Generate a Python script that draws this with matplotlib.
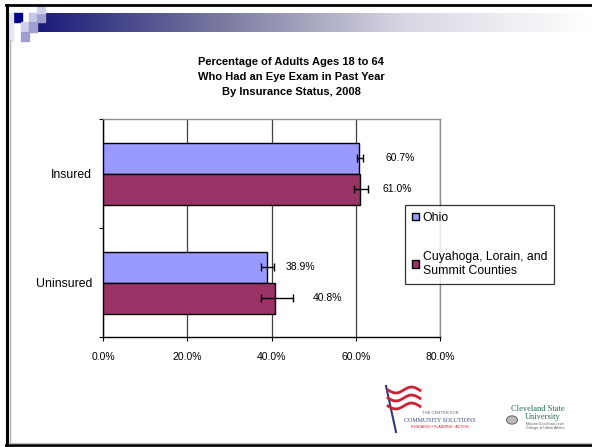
import matplotlib
matplotlib.use("Agg")
import matplotlib.pyplot as plt
import numpy as np
from matplotlib.patches import Rectangle, Circle
from matplotlib.lines import Line2D
from matplotlib.colors import LinearSegmentedColormap

# ---------------- data ----------------
categories = ["Insured", "Uninsured"]
series_names = ["Ohio", "Cuyahoga, Lorain, and\nSummit Counties"]
ohio_values = [60.7, 38.9]
county_values = [61.0, 40.8]
ohio_ci_low = [60.4, 37.6]
ohio_ci_high = [61.8, 40.7]
county_ci_low = [59.6, 37.4]
county_ci_high = [63.0, 45.0]
value_labels_ohio = ["60.7%", "38.9%"]
value_labels_county = ["61.0%", "40.8%"]
x_ticks = [0, 20, 40, 60, 80]
x_tick_labels = ["0.0%", "20.0%", "40.0%", "60.0%", "80.0%"]
title = "Percentage of Adults Ages 18 to 64\nWho Had an Eye Exam in Past Year\nBy Insurance Status, 2008"

# ---------------- style ----------------
FONT = "Liberation Sans"
plt.rcParams['font.family'] = [FONT, 'DejaVu Sans']
ohio_color = "#9999FF"
county_color = "#993366"
# label offsets (points) from bar end
off_ohio = [30, 24]
off_county = [27, 38]

W, H = 592, 447
fig = plt.figure(figsize=(W / 100, H / 100), dpi=100)

def fx(px):
    return px / W

def fy(py):
    return 1 - py / H

# slide decorations
grad = np.linspace(0, 1, 256).reshape(1, -1)
cmap = LinearSegmentedColormap.from_list("g", ["#1a1a7a", "#7a7aa0", "#d8d8e4", "#ffffff"])
gax = fig.add_axes([fx(37), fy(32), fx(592 - 37), (32 - 13) / H])
gax.imshow(grad, aspect="auto", cmap=cmap)
gax.axis("off")

squares = [
    (13, 13, 9, 9, "#000080"),
    (29, 13, 8, 9, "#c8c8e6"),
    (37, 13, 8, 9, "#a0a0d0"),
    (37, 5, 8, 8, "#d0d0ec"),
    (21, 22, 8, 10, "#d0d0ec"),
    (29, 22, 8, 10, "#a0a0d0"),
    (21, 32, 8, 9, "#a0a0d0"),
    (7, 13, 6, 28, "#e4e4f2"),
]
for x, y, w, h, c in squares:
    fig.patches.append(Rectangle((fx(x), fy(y + h)), fx(w), h / H, color=c,
                                 transform=fig.transFigure, zorder=1))

# slide border
fig.lines.append(Line2D([fx(6), 1], [fy(5), fy(5)], color="black", lw=2, transform=fig.transFigure))
fig.lines.append(Line2D([fx(7), fx(7)], [fy(5), fy(445)], color="black", lw=2.2, transform=fig.transFigure))
fig.lines.append(Line2D([fx(9.5), fx(9.5)], [fy(40), fy(443)], color="#b0b0b0", lw=1, transform=fig.transFigure))
fig.lines.append(Line2D([fx(6), 1], [fy(445), fy(445)], color="black", lw=2, transform=fig.transFigure))
fig.lines.append(Line2D([fx(9), 1], [fy(442.5), fy(442.5)], color="#c0c0c0", lw=1, transform=fig.transFigure))

# title
fig.text(fx(291), fy(57), title, ha="center", va="top", fontsize=8,
         fontweight="bold", linespacing=1.6)

# ---------------- main axes ----------------
ax = fig.add_axes([fx(103), fy(337), fx(440 - 103), (337 - 119) / H])
ypos = np.array([1.0, 0.0])  # Insured on top
bh = 31 / 109.0

ax.barh(ypos + bh / 2, ohio_values, height=bh, color=ohio_color,
        edgecolor="black", linewidth=1, zorder=3, label=series_names[0])
ax.barh(ypos - bh / 2, county_values, height=bh, color=county_color,
        edgecolor="black", linewidth=1, zorder=3, label=series_names[1])

oc = np.array(ohio_values)
cc = np.array(county_values)
ax.errorbar(oc, ypos + bh / 2,
            xerr=[oc - np.array(ohio_ci_low), np.array(ohio_ci_high) - oc],
            fmt="none", ecolor="black", elinewidth=1, capsize=3, capthick=1, zorder=4)
ax.errorbar(cc, ypos - bh / 2,
            xerr=[cc - np.array(county_ci_low), np.array(county_ci_high) - cc],
            fmt="none", ecolor="black", elinewidth=1, capsize=3, capthick=1, zorder=4)

for i in range(len(categories)):
    ax.annotate(value_labels_ohio[i], (ohio_values[i], ypos[i] + bh / 2),
                xytext=(off_ohio[i], 0), textcoords="offset points",
                ha="center", va="center", fontsize=7.5)
    ax.annotate(value_labels_county[i], (county_values[i], ypos[i] - bh / 2),
                xytext=(off_county[i], 0), textcoords="offset points",
                ha="center", va="center", fontsize=7.5)

ax.set_xlim(0, 80)
ax.set_ylim(-0.5, 1.5)
ax.set_xticks(x_ticks)
ax.set_xticklabels(x_tick_labels, fontsize=7.5)
ax.set_yticks(ypos)
ax.set_yticklabels(categories, fontsize=8.8)
ax.set_yticks([-0.5, 0.5, 1.5], minor=True)
ax.tick_params(axis="y", which="major", length=0, pad=8)
ax.tick_params(axis="y", which="minor", length=3, direction="out", width=0.8)
ax.tick_params(axis="x", which="major", length=3, direction="out", width=0.8, pad=8)
ax.grid(axis="x", color="#404040", linewidth=0.9, zorder=0)
ax.set_axisbelow(True)
for s in ["top", "right"]:
    ax.spines[s].set_color("#909090")
    ax.spines[s].set_linewidth(1)
for s in ["left", "bottom"]:
    ax.spines[s].set_color("black")
    ax.spines[s].set_linewidth(1)

leg = ax.legend(loc="upper left", bbox_to_anchor=(fx(405), fy(205)),
                bbox_transform=fig.transFigure, frameon=True, fancybox=False,
                edgecolor="black", fontsize=8.8, handlelength=0.6, handleheight=0.6,
                handletextpad=0.3, labelspacing=2.2, borderpad=0.55, borderaxespad=0)
for t in leg.get_texts():
    t.set_linespacing(1.3)
leg.get_frame().set_linewidth(0.9)
leg.set_zorder(10)

# ---------------- logos (approximate) ----------------
fig.lines.append(Line2D([fx(386), fx(396)], [fy(386), fy(432)], color="#2a3a7a", lw=1.5,
                        transform=fig.transFigure))
for yy in [390, 398, 406]:
    xs = np.linspace(388, 420, 20)
    ys = yy + 3 * np.sin((xs - 388) / 5)
    fig.lines.append(Line2D(fx(xs), fy(ys), color="#cc2233", lw=2,
                            transform=fig.transFigure))
fig.text(fx(440), fy(413), "THE CENTER FOR", fontsize=3, color="#5a5a7a", ha="center", va="center")
fig.text(fx(440), fy(420), "COMMUNITY SOLUTIONS", fontsize=4.3, color="#3a4a8a", ha="center",
         va="center", family="Liberation Serif")
fig.text(fx(440), fy(427), "RESEARCH • PLANNING • ACTION", fontsize=2.6, color="#cc2233",
         ha="center", va="center")
fig.text(fx(538), fy(409), "Cleveland State", fontsize=6, color="#1e6e4e", ha="center",
         va="center", family="Liberation Serif")
fig.text(fx(543), fy(417), "University", fontsize=6, color="#1e6e4e", ha="center",
         va="center", family="Liberation Serif")
fig.text(fx(545), fy(424), "Maxine Goodman Levin", fontsize=2.6, color="#555555", ha="center", va="center")
fig.text(fx(545), fy(428), "College of Urban Affairs", fontsize=2.6, color="#555555", ha="center", va="center")
fig.patches.append(Circle((fx(512), fy(420)), 5.5 / W, transform=fig.transFigure,
                          facecolor="#bbbbbb", edgecolor="#555555", lw=0.6))

fig.savefig("out.png", dpi=100)
